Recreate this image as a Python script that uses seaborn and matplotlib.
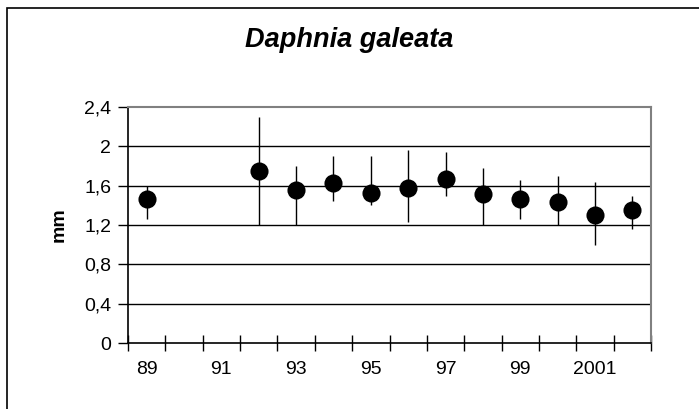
"""Daphnia galeata body length per year, mean with range."""

import numpy as np
import pandas as pd
import matplotlib
matplotlib.use("Agg")
import matplotlib.pyplot as plt
from matplotlib.patches import Rectangle
import seaborn as sns

YEARS = ["89", "90", "91", "92", "93", "94", "95", "96", "97", "98", "99", "2000", "2001", "2002"]
MEAN = [1.46, np.nan, np.nan, 1.75, 1.56, 1.63, 1.53, 1.58, 1.67, 1.52, 1.46, 1.43, 1.30, 1.35]
LOW = [1.26, np.nan, np.nan, 1.20, 1.20, 1.44, 1.40, 1.23, 1.50, 1.20, 1.26, 1.20, 1.00, 1.16]
HIGH = [1.60, np.nan, np.nan, 2.30, 1.80, 1.90, 1.90, 1.96, 1.94, 1.78, 1.66, 1.70, 1.64, 1.50]
Y_TICKS = [0, 0.4, 0.8, 1.2, 1.6, 2.0, 2.4]
LABEL_EVERY = 2

df = pd.DataFrame({"year": YEARS, "mean": MEAN, "low": LOW, "high": HIGH})
df["pos"] = np.arange(len(df))
df = df.dropna()

sns.set_theme(style="white")
plt.rcParams["font.family"] = ["Liberation Sans", "DejaVu Sans"]

fig = plt.figure(figsize=(6.99, 4.09), dpi=100)
ax = fig.add_axes([128 / 699, 66 / 409, 523 / 699, 236 / 409])

# grid first so error bars sit on top
for v in Y_TICKS[1:-1]:
    ax.axhline(v, color="black", lw=1, zorder=1)

ax.errorbar(df["pos"], df["mean"],
            yerr=[df["mean"] - df["low"], df["high"] - df["mean"]],
            fmt="none", ecolor="black", elinewidth=1, capsize=0, zorder=2)
sns.scatterplot(data=df, x="pos", y="mean", color="black", s=170,
                edgecolor="black", linewidth=0, ax=ax, zorder=3)

ax.set_xlim(-0.5, len(YEARS) - 0.5)
ax.set_ylim(0, 2.4)
ax.set_yticks(Y_TICKS)
ax.set_yticklabels([f"{v:g}".replace(".", ",") for v in Y_TICKS])

# ticks between categories, labels centred on every other category
ax.set_xticks(np.arange(len(YEARS) + 1) - 0.5)
ax.set_xticklabels([])
ax.set_xticks(np.arange(0, len(YEARS), LABEL_EVERY), minor=True)
ax.set_xticklabels([YEARS[i] for i in range(0, len(YEARS), LABEL_EVERY)], minor=True)

ax.tick_params(axis="x", which="major", direction="inout", length=12, width=1,
               color="black", bottom=True)
ax.tick_params(axis="x", which="minor", length=0, labelsize=14, pad=13,
               labelcolor="black", bottom=True)
ax.tick_params(axis="y", direction="out", length=7, width=1, color="black",
               labelsize=14, labelcolor="black", pad=5, left=True)

ax.set_xlabel("")
ax.set_ylabel("mm", fontsize=14, fontweight="bold", color="black", labelpad=12)

for side in ["left", "bottom"]:
    ax.spines[side].set_color("black")
    ax.spines[side].set_linewidth(1.2)
for side in ["top", "right"]:
    ax.spines[side].set_visible(True)
    ax.spines[side].set_color("#808080")
    ax.spines[side].set_linewidth(1.5)

fig.text(0.5, 1 - 40 / 409, "Daphnia galeata", ha="center", va="center",
         fontsize=19.5, fontweight="bold", fontstyle="italic", color="black")

fig.patches.append(Rectangle((7 / 699, -0.1), 1.1, 1.1 - 8 / 409,
                             transform=fig.transFigure, fill=False,
                             edgecolor="black", lw=1.2, clip_on=False))

fig.savefig("out.png", dpi=100)
plt.close(fig)
